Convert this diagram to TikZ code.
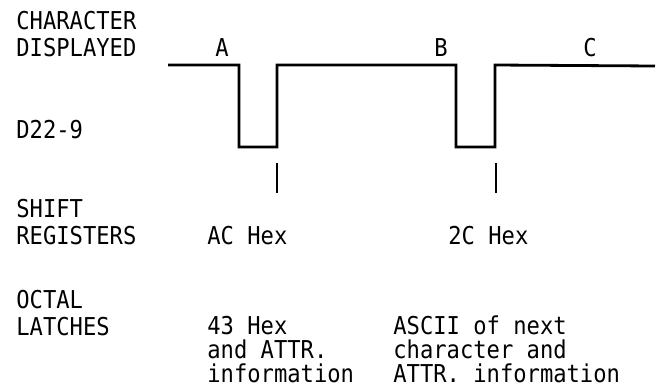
\documentclass[tikz,border=0pt]{standalone}
\usepackage{fontspec}
\setmonofont[FakeStretch=0.9]{DejaVu Sans Mono}
\begin{document}
\begin{tikzpicture}[x=0.5pt,y=-0.5pt,
	txt/.style={anchor=base west,inner sep=0pt,align=left,font=\ttfamily\fontsize{12.3}{13.5}\selectfont},
	tight/.style={txt,font=\ttfamily\fontsize{12.3}{12}\selectfont},
	chr/.style={txt,anchor=base},
	wave/.style={line width=1.4pt,line join=miter},
	tick/.style={line width=1.2pt}]
	\useasboundingbox (0,0) rectangle (660,386);
	\def\hi{65} \def\lo{147}
	% row labels (placed by their last line)
	\node[txt] (disp) at (16,56) {CHARACTER\\DISPLAYED};
	\node[txt] (dsig) at (16,138) {D22-9};
	\node[txt] (shift) at (16,244) {SHIFT\\REGISTERS};
	\node[txt] (octal) at (16,335) {OCTAL\\LATCHES};
	% characters
	\foreach \c/\x in {A/222,B/441,C/590}
	\node[chr] (chr\c) at (\x,56) {\c};
	% waveform
	\path
	(168,\hi) coordinate (S)
	(239,\hi) coordinate (A1) (277,\hi) coordinate (A2)
	(456,\hi) coordinate (B1) (495,\hi) coordinate (B2)
	(655,66) coordinate (E);
	\foreach \p in {A1,A2,B1,B2}
	\path (\p)+(0,\lo-\hi) coordinate (\p');
	\draw[wave] (S)--(A1)--(A1')--(A2')--(A2)--(B1)--(B1')--(B2')--(B2)--(E);
	% latch ticks
	\foreach \p/\x in {A/277,B/496}
	\draw[tick] (\x,163) coordinate (\p t) -- (\x,193) coordinate (\p b);
	% contents
	\node[txt] (acx) at (207,244) {AC Hex};
	\node[txt] (twoc) at (448,244) {2C Hex};
	\node[tight] (lat1) at (207,382) {43 Hex\\and ATTR.\\information};
	\node[tight] (lat2) at (393,382) {ASCII of next\\character and\\ATTR. information};
\end{tikzpicture}
\end{document}
